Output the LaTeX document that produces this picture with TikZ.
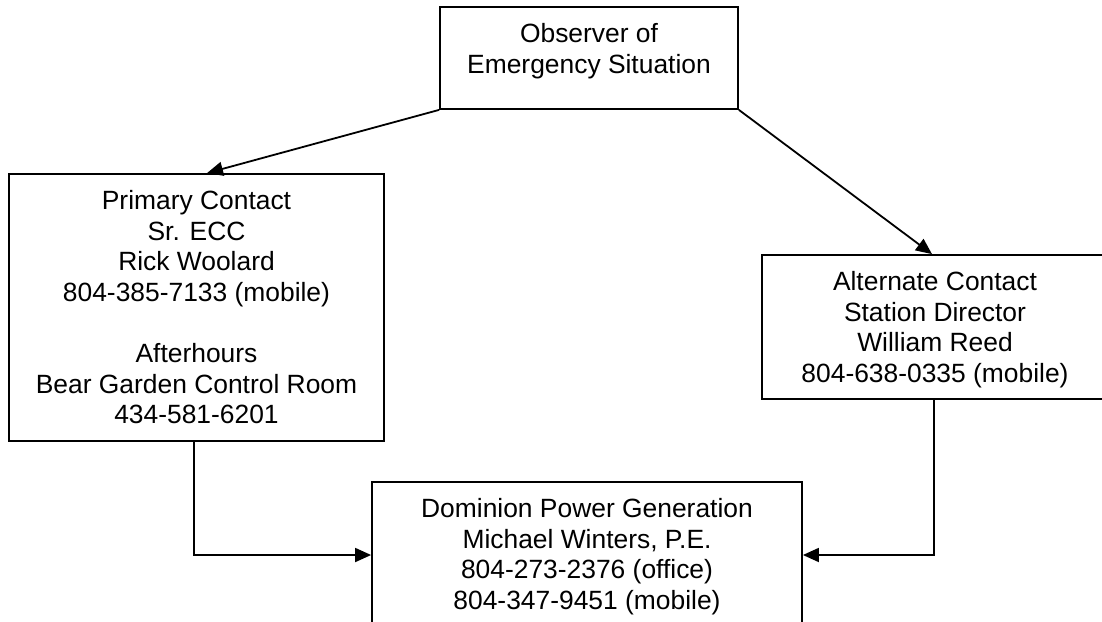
\documentclass[tikz,border=0pt]{standalone}
\usepackage{fontspec}
\setmainfont{Liberation Sans}
\usetikzlibrary{arrows.meta}
\tikzset{
  box/.style={draw=black, line width=1.8pt, inner sep=0pt, rectangle},
  txt/.style={font=\fontsize{26.4}{30.6}\selectfont, align=center, anchor=north, inner sep=0pt},
  arr/.style={draw=black, line width=1.8pt, -{Triangle[length=16pt,width=14pt]}}
}
\begin{document}
\begin{tikzpicture}[x=1pt,y=-1pt]
\useasboundingbox (0,0) rectangle (1102,621);
\clip (0,0) rectangle (1102,621);
\fill[white] (0,0) rectangle (1102,621);
% boxes
\node[box, minimum width=298pt, minimum height=102pt] (obs) at (589,58) {};
\node[box, minimum width=375pt, minimum height=267pt] (prim) at (196.5,307.5) {};
\node[box, minimum width=346pt, minimum height=144pt] (alt) at (935,327) {};
\node[box, minimum width=430pt, minimum height=146pt] (dom) at (587,555) {};
% texts
\node[txt] (obst) at ([yshift=-17pt]obs.north) {Observer of\\Emergency Situation};
\node[txt] (primt) at ([yshift=-17pt]prim.north) {Primary Contact\\Sr. ECC\\Rick Woolard\\804-385-7133 (mobile)\\[30.6pt]Afterhours\\Bear Garden Control Room\\434-581-6201};
\node[txt] (altt) at ([yshift=-17pt]alt.north) {Alternate Contact\\Station Director\\William Reed\\804-638-0335 (mobile)};
\node[txt] (domt) at ([yshift=-17pt]dom.north) {Dominion Power Generation\\Michael Winters, P.E.\\804-273-2376 (office)\\804-347-9451 (mobile)};
% connectors
\draw[arr] (obs.south west) -- ([xshift=10.5pt]prim.north);
\draw[arr] (obs.south east) -- ([xshift=-3pt]alt.north);
\draw[arr] ([xshift=-2.5pt]prim.south) |- (dom.west);
\draw[arr] ([xshift=-1pt]alt.south) |- (dom.east);
\end{tikzpicture}
\end{document}
